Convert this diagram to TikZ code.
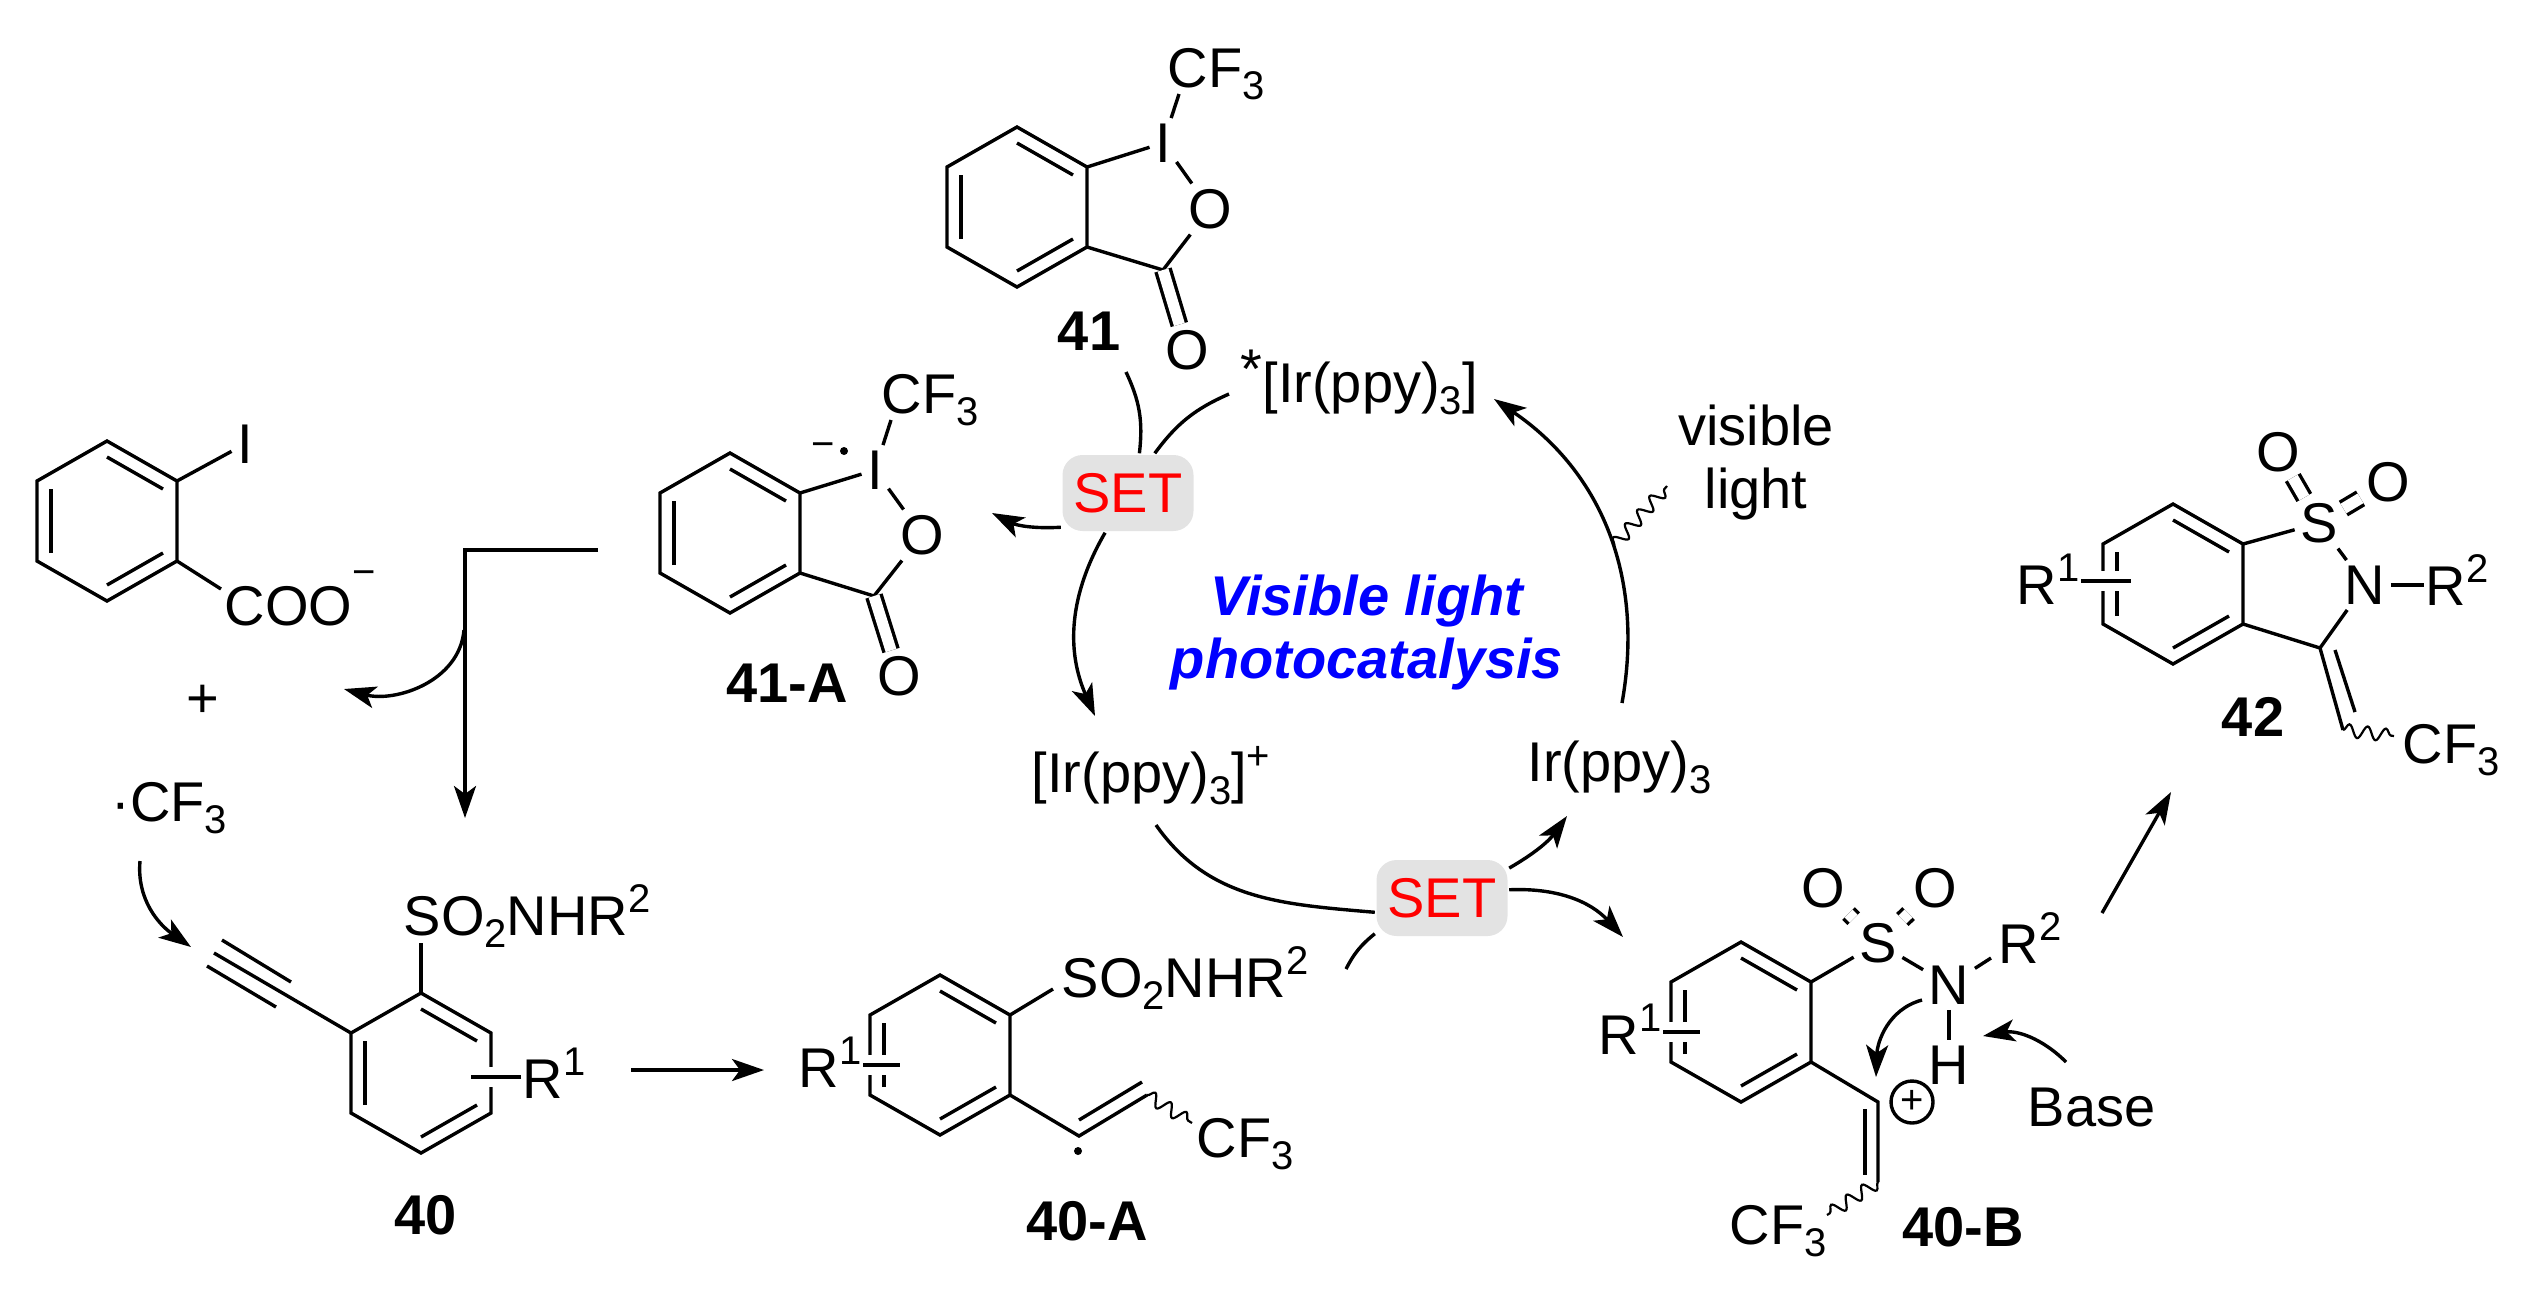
\documentclass[tikz,border=0pt]{standalone}
\usepackage{xcolor}
\usepackage{fontspec}
\setmainfont{Liberation Sans}
\usetikzlibrary{arrows.meta,calc,decorations.pathmorphing}
\newcommand{\lowr}[1]{\raisebox{-3.1pt}{\fontsize{10}{10}\selectfont #1}}
\newcommand{\uppr}[2][5.6pt]{\raisebox{#1}{\fontsize{10}{10}\selectfont #2}}
\newcommand{\benzring}[3]{%
	\coordinate (#1-o) at (#2,#3);
	\coordinate (#1-a) at ($(#1-o)+(0,-80)$);
	\coordinate (#1-b) at ($(#1-o)+(70,-40)$);
	\coordinate (#1-c) at ($(#1-o)+(70,40)$);
	\coordinate (#1-d) at ($(#1-o)+(0,80)$);
	\coordinate (#1-e) at ($(#1-o)+(-70,40)$);
	\coordinate (#1-f) at ($(#1-o)+(-70,-40)$);
	\draw (#1-a) -- (#1-b) -- (#1-c) -- (#1-d) -- (#1-e) -- (#1-f) -- cycle;
	\draw ($(#1-a)!0.2!(#1-o)$) -- ($(#1-b)!0.2!(#1-o)$);
	\draw ($(#1-c)!0.2!(#1-o)$) -- ($(#1-d)!0.2!(#1-o)$);
	\draw ($(#1-e)!0.2!(#1-o)$) -- ($(#1-f)!0.2!(#1-o)$);
}
\tikzset{
	every node/.style={font=\fontsize{14}{15.75}\selectfont},
	atom/.style={inner sep=1pt},
	lab/.style={anchor=base west,inner sep=0pt},
	cmpd/.style={font=\fontsize{14}{16}\bfseries\selectfont,inner sep=0pt},
	settag/.style={fill=black!11,text=red,rounded corners=5pt,inner sep=0pt,minimum width=32.75pt,minimum height=19pt},
	arr/.style={-{Stealth[length=8pt,width=5.5pt,inset=2pt]}},
	dbond/.style={double,double distance=2.8pt},
	wave/.style={decorate,decoration={snake,segment length=4.6pt,amplitude=1.6pt},line width=0.55pt},
	stub/.style={preaction={draw=white,line width=5pt}},
	raddot/.style={circle,fill=black,inner sep=0pt,minimum size=2pt},
}

\begin{document}
\begin{tikzpicture}[x=0.25pt,y=-0.25pt,line width=0.85pt]
	\useasboundingbox (0,0) rectangle (2536,1288);
	%
	\benzring{r41}{1017}{207}
	\benzring{bz}{107}{521}
	\benzring{r41A}{730}{533}
	\benzring{r40}{421}{1073}
	\benzring{r40A}{940}{1055}
	\benzring{r40B}{1741}{1022}
	\benzring{r42}{2173}{584}
	%
	\node[atom] (i41) at (1163,143) {I};
	\node[atom] (o41) at (1210,209) {O};
	\node[atom] (oo41) at (1187,350) {O};
	\node[lab] (cf41) at (1166,87) {CF\lowr{3}};
	\coordinate (c41) at (1163,270);
	\coordinate (ecf41) at (1179,94);
	\node[cmpd] (n41) at (1089,331) {41};
	%
	\node[atom] (ibz) at (245,444) {I};
	\node[lab] (coo) at (223,625) {COO\uppr[10pt]{−}};
	\coordinate (ecoo) at (221,589);
	\node (plus) at (203,701) {+};
	\node[lab] (cfr) at (110,821) {·CF\lowr{3}};
	%
	\node[atom] (i41A) at (875,470) {I};
	\node[atom] (o41A) at (922,535) {O};
	\node[atom] (oo41A) at (899,676) {O};
	\node[lab] (cf41A) at (880,413) {CF\lowr{3}};
	\node[raddot] (d41A) at (844,451) {};
	\node[inner sep=0pt,font=\fontsize{10}{10}\selectfont] (m41A) at (823,450) {−};
	\coordinate (c41A) at (874,596);
	\coordinate (ecf41A) at (891,420);
	\node[cmpd] (n41A) at (787,683) {41-A};
	%
	\node[lab] (so40) at (402,935) {SO\lowr{2}NHR\uppr{2}};
	\node[lab] (r140) at (521,1098) {R\uppr{1}};
	\coordinate (eso40) at (421,943);
	\coordinate (es40) at (471,1077);
	\coordinate (t40a) at (214,953);
	\coordinate (t40b) at (222,940);
	\coordinate (t40c) at (291,982);
	\coordinate (t40d) at (207,966);
	\coordinate (t40e) at (276,1007);
	\node[cmpd] (n40) at (426,1215) {40};
	%
	\node[lab] (so40A) at (1060,997) {SO\lowr{2}NHR\uppr{2}};
	\node[lab] (r140A) at (797,1087) {R\uppr{1}};
	\node[lab] (cf40A) at (1195,1157) {CF\lowr{3}};
	\node[raddot] (d40A) at (1078,1151) {};
	\coordinate (eso40A) at (1053,989);
	\coordinate (es40A) at (900,1065);
	\coordinate (v40Aa) at (1079,1136);
	\coordinate (v40Ab) at (1147,1095);
	\coordinate (v40Ac) at (1079,1120);
	\coordinate (v40Ad) at (1142,1082);
	\coordinate (ecf40A) at (1192,1123);
	\node[cmpd] (n40A) at (1087,1221) {40-A};
	%
	\node[atom] (s40B) at (1878,943) {S};
	\node[atom] (oa40B) at (1823,888) {O};
	\node[atom] (ob40B) at (1935,888) {O};
	\node[atom] (n40B) at (1949,985) {N};
	\node[atom] (h40B) at (1949,1065) {H};
	\node[lab] (r240B) at (1997,963) {R\uppr{2}};
	\node[lab] (r140B) at (1597,1054) {R\uppr{1}};
	\node[lab] (cf40B) at (1728,1244) {CF\lowr{3}};
	\node[lab] (base) at (2026,1126) {Base};
	\node[draw,circle,inner sep=0pt,minimum size=10.5pt,font=\fontsize{10}{10}\selectfont] (pl40B) at (1912,1102) {+};
	\coordinate (er240B) at (1991,958);
	\coordinate (es40B) at (1700,1032);
	\coordinate (v40Ba) at (1878,1102);
	\coordinate (v40Bb) at (1878,1182);
	\coordinate (v40Bc) at (1865,1109);
	\coordinate (v40Bd) at (1865,1175);
	\coordinate (ecf40B) at (1827,1215);
	\node[cmpd] (n40B-lab) at (1963,1227) {40-B};
	%
	\node[atom] (s42) at (2319,523) {S};
	\node[atom] (oa42) at (2278,452) {O};
	\node[atom] (ob42) at (2388,482) {O};
	\node[atom] (n42) at (2365,585) {N};
	\node[lab] (r242) at (2424,605) {R\uppr{2}};
	\node[lab] (r142) at (2015,604) {R\uppr{1}};
	\node[lab] (cf42) at (2401,763) {CF\lowr{3}};
	\coordinate (es42) at (2131,581);
	\coordinate (c42) at (2320,648);
	\coordinate (v42a) at (2343,730);
	\coordinate (v42b) at (2335,650);
	\coordinate (v42c) at (2355,712);
	\coordinate (ecf42) at (2394,736);
	\node[cmpd] (n42-lab) at (2253,717) {42};
	%
	\node[lab] (irex) at (1239,402) {\raisebox{3.4pt}{*}[Ir(ppy)\lowr{3}]};
	\node[lab] (irox) at (1030,792) {[Ir(ppy)\lowr{3}]\uppr{+}};
	\node[lab] (irgs) at (1526,781) {Ir(ppy)\lowr{3}};
	\node[align=center,inner sep=0pt] (vis) at (1756,463) {visible\\light};
	\node[align=center,inner sep=0pt,text=blue,font=\fontsize{14}{15.75}\bfseries\itshape\selectfont] (title) at (1367,632) {Visible light\\photocatalysis};
	\node[settag] (set1) at (1128,493) {SET};
	\node[settag] (set2) at (1442,898) {SET};
	%
	\draw (r41-b) -- (i41);
	\draw (i41) -- (ecf41);
	\draw (i41) -- (o41);
	\draw (o41) -- (c41) -- (r41-c);
	\draw[dbond] (c41) -- (oo41);
	\draw (bz-b) -- (ibz);
	\draw (bz-c) -- (ecoo);
	\draw (r41A-b) -- (i41A);
	\draw (i41A) -- (ecf41A);
	\draw (i41A) -- (o41A);
	\draw (o41A) -- (c41A) -- (r41A-c);
	\draw[dbond] (c41A) -- (oo41A);
	%
	\draw (r40-a) -- (eso40);
	\draw (r40-f) -- (t40a);
	\draw (t40b) -- (t40c);
	\draw (t40d) -- (t40e);
	\draw[stub] (r140.west |- es40) -- (es40);
	\draw (r40A-b) -- (eso40A);
	\draw (r40A-c) -- (v40Aa) -- (v40Ab);
	\draw (v40Ac) -- (v40Ad);
	\draw[wave] (v40Ab) -- (ecf40A);
	\draw[stub] (r140A.east |- es40A) -- (es40A);
	%
	\draw (r40B-b) -- (s40B);
	\draw[dbond] (s40B) -- (oa40B);
	\draw[dbond] (s40B) -- (ob40B);
	\draw (s40B) -- (n40B);
	\draw (n40B) -- (er240B);
	\draw (n40B) -- (h40B);
	\draw (r40B-c) -- (v40Ba) -- (v40Bb);
	\draw (v40Bc) -- (v40Bd);
	\draw[wave] (v40Bb) -- (ecf40B);
	\draw[stub] (r140B.east |- es40B) -- (es40B);
	%
	\draw (r42-b) -- (s42);
	\draw[dbond] (s42) -- (oa42);
	\draw[dbond] (s42) -- (ob42);
	\draw (s42) -- (n42);
	\draw (n42) -- (r242.west |- n42);
	\draw (n42) -- (c42) -- (r42-c);
	\draw (c42) -- (v42a);
	\draw (v42b) -- (v42c);
	\draw[wave] (v42a) -- (ecf42);
	\draw[stub] (r142.east |- es42) -- (es42);
	%
	\coordinate (sa41) at (1126,372);
	\coordinate (sb41) at (1229,394);
	\coordinate (tA41) at (992,513);
	\coordinate (tirox) at (1095,716);
	\coordinate (sirox) at (1156,825);
	\coordinate (sa40A) at (1346,969);
	\coordinate (tirgs) at (1567,816);
	\coordinate (t40B) at (1623,937);
	\coordinate (sirgs) at (1622,703);
	\coordinate (tirex) at (1494,399);
	\coordinate (wa) at (1614,546);
	\coordinate (wb) at (1667,486);
	\coordinate (la) at (598,550);
	\coordinate (lb) at (465,550);
	\coordinate (lc) at (465,818);
	\coordinate (ld) at (464,630);
	\coordinate (le) at (344,689);
	\coordinate (cfa) at (140,861);
	\coordinate (cfb) at (191,947);
	\coordinate (rxa) at (631,1070);
	\coordinate (rxb) at (764,1070);
	\coordinate (na) at (1922,1000);
	\coordinate (nb) at (1876,1077);
	\coordinate (ba) at (2066,1062);
	\coordinate (bb) at (1983,1036);
	\coordinate (pa) at (2102,913);
	\coordinate (pb) at (2171,792);
	%
	\draw (sa41) to[bend left=16] (set1.74);
	\draw (sb41) to[bend right=15] (set1.56);
	\draw[arr] (set1.207) to[bend left=15] (tA41);
	\draw[arr] (set1.240) to[bend right=27] (tirox);
	\draw (sirox) to[out=-55,in=175] (set2.192);
	\draw (sa40A) to[bend left=12] (set2.208);
	\draw[arr] (set2.24) to[bend right=12] (tirgs);
	\draw[arr] (set2.7) to[bend left=25] (t40B);
	\draw[arr] (sirgs) to[bend right=33] (tirex);
	\draw[wave] (wa) -- (wb);
	\draw[arr] (la) -- (lb) -- (lc);
	\draw[arr] (ld) to[out=-95,in=-15] (le);
	\draw[arr] (cfa) to[out=-95,in=145] (cfb);
	\draw[arr] (rxa) -- (rxb);
	\draw[arr] (na) to[out=195,in=88] (nb);
	\draw[arr] (ba) to[out=135,in=10] (bb);
	\draw[arr] (pa) -- (pb);
\end{tikzpicture}
\end{document}
